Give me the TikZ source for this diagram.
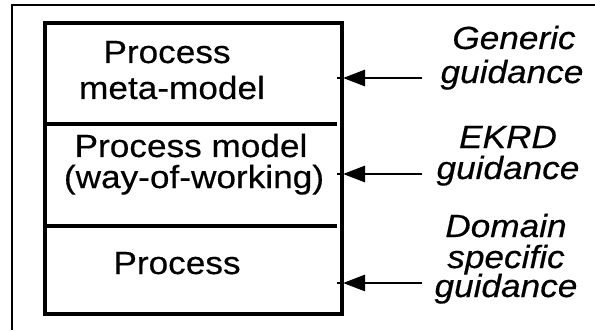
\documentclass[tikz,border=0pt]{standalone}
\usepackage{fontspec}
\setmainfont{Liberation Sans}
\newfontfamily\diagfont[FakeStretch=1.1,FakeBold=0.4]{Liberation Sans}
\usepackage{tikz}
\usetikzlibrary{arrows.meta}

\tikzset{
  boxtext/.style={font=\diagfont\fontsize{32}{34}\selectfont, anchor=base, inner sep=0pt},
  guidetext/.style={font=\diagfont\fontsize{32}{34}\selectfont\itshape, anchor=base, inner sep=0pt},
  guidearrow/.style={line width=2.8pt, -{Triangle[length=22pt,width=16pt]}},
  guidetick/.style={line width=1.5pt},
}

\begin{document}
\begin{tikzpicture}[x=1pt,y=1pt]
      \useasboundingbox (0,0) rectangle (595,330);
      % frame, left and top only
      \draw[line width=1.8pt] (12,0) -- (12,325) -- (595,325);
      % the three layers
      \draw[line width=3.2pt] (45,16) rectangle (342,307);
      \draw[line width=4pt] (45,206) -- (337,206);
      \draw[line width=4pt] (45,104) -- (337,104);
      \node[boxtext] (metaA) at (167,267) {Process};
      \node[boxtext] (metaB) at (172,231) {meta-model};
      \node[boxtext] (modelA) at (191,173) {Process model};
      \node[boxtext] (modelB) at (194,142) {(way-of-working)};
      \node[boxtext] (proc) at (177,56) {Process};
      % guidance labels
      \node[guidetext] (genA) at (514,281) {Generic};
      \node[guidetext] (genB) at (512,247) {guidance};
      \node[guidetext] (ekrdA) at (508,182) {EKRD};
      \node[guidetext] (ekrdB) at (508,151) {guidance};
      \node[guidetext] (domA) at (506,93) {Domain};
      \node[guidetext] (domB) at (506,62) {specific};
      \node[guidetext] (domC) at (506,33) {guidance};
      % arrows into the box
      \coordinate (genS) at (422,252);
      \coordinate (genT) at (343,252);
      \coordinate (ekrdS) at (422,156);
      \coordinate (ekrdT) at (343,156);
      \coordinate (domS) at (422,47);
      \coordinate (domT) at (343,47);
      \draw[guidearrow] (genS) -- (genT);
      \draw[guidearrow] (ekrdS) -- (ekrdT);
      \draw[guidearrow] (domS) -- (domT);
      \draw[guidetick] (genT) -- ++(-6,0);
      \draw[guidetick] (ekrdT) -- ++(-6,0);
      \draw[guidetick] (domT) -- ++(-6,0);
    \end{tikzpicture}
\end{document}
